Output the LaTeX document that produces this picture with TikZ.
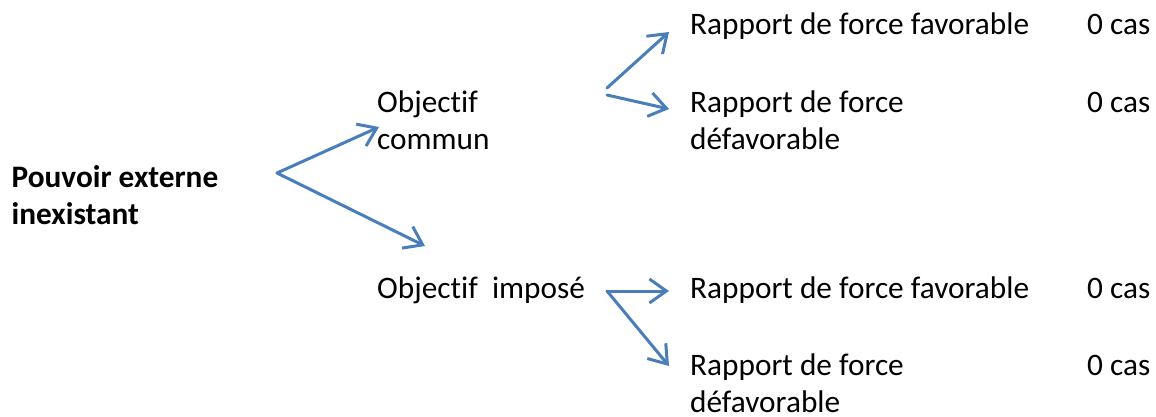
\documentclass[tikz,border=0pt]{standalone}
\usepackage{fontspec}
\setmainfont{Carlito}[Ligatures=NoCommon]
\usepackage{xcolor}
\usetikzlibrary{arrows.meta,positioning}
\definecolor{ink}{HTML}{000000}
\definecolor{accent}{HTML}{4A7EBB}
\tikzset{
  lbl/.style={anchor=base west,inner sep=0pt,align=left,text=ink,font=\fontsize{31.3}{37}\selectfont},
  root/.style={lbl,font=\fontsize{31.3}{37}\selectfont\bfseries},
  flow/.style={-{Straight Barb[length=17pt,width=24pt]},line width=3pt,draw=accent,line cap=round,line join=round}
}
\begin{document}
\begin{tikzpicture}[x=1pt,y=-1pt]
  \useasboundingbox (0,0) rectangle (1156,416);
  % two-line nodes sit on the baseline of their last line
  \node[root] (pouvoir) at (11.5,224) {Pouvoir externe\\inexistant};
  \node[lbl] (commun) at (377,149) {Objectif\\commun};
  \node[lbl] (impose) at (377,298) {Objectif\ \ imposé};
  \node[lbl] (fav1) at (690,34) {Rapport de force favorable};
  \node[lbl] (def1) at (690,149) {Rapport de force\\défavorable};
  \node[lbl] (fav2) at (690,298) {Rapport de force favorable};
  \node[lbl] (def2) at (690,412.5) {Rapport de force\\défavorable};
  \node[lbl] (cas1) at (1087,34) {0 cas};
  \node[lbl] (cas2) at (1087,112) {0 cas};
  \node[lbl] (cas3) at (1087,298) {0 cas};
  \node[lbl] (cas4) at (1087,375.5) {0 cas};
  % forks and arrow tips
  \coordinate (f1) at (277,173);
  \coordinate (f1a) at (379,127);
  \coordinate (f1b) at (425,246);
  \coordinate (f2a) at (607,88);
  \coordinate (f2b) at (607,95);
  \coordinate (t2a) at (669,32);
  \coordinate (t2b) at (669,109);
  \coordinate (f3) at (607,291);
  \coordinate (t3a) at (669,291);
  \coordinate (t3b) at (669,366);
  \draw[flow] (f1) -- (f1a); \draw[flow] (f1) -- (f1b);
  \draw[flow] (f2a) -- (t2a); \draw[flow] (f2b) -- (t2b);
  \draw[flow] (f3) -- (t3a); \draw[flow] (f3) -- (t3b);
\end{tikzpicture}
\end{document}
